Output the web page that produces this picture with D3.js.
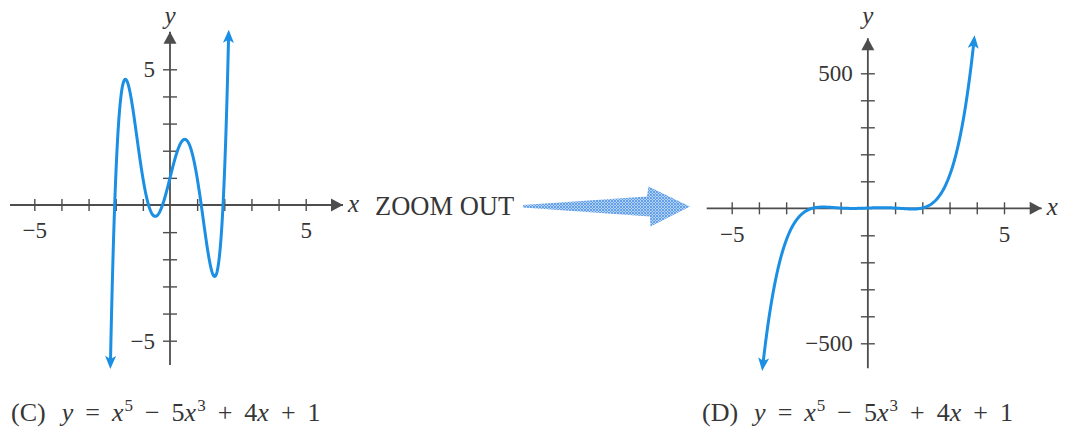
<!DOCTYPE html>
<html>
<head>
<meta charset="utf-8">
<script src="https://cdn.jsdelivr.net/npm/d3@7"></script>
<style>
  html, body { margin: 0; padding: 0; background: #fff; }
  svg { display: block; }
  text { font-family: "Liberation Serif", "Times New Roman", serif; fill: #363636; }
</style>
</head>
<body>
<svg id="chart" width="1080" height="432"></svg>
<script>
// Polynomial y = x^5 - 5x^3 + 4x + 1, highest power first
const coefficients = [1, 0, -5, 0, 4, 1];

// Visible x-interval of the curve in each panel
const curveRangeC = [-2.195, 2.16];
const curveRangeD = [-3.86, 3.9];

// Tick values and labels
const ticksXC = [-5, -4, -3, -2, -1, 1, 2, 3, 4, 5];
const ticksYC = [-5, -4, -3, -2, -1, 1, 2, 3, 4, 5];
const ticksXD = [-5, -4, -3, -2, -1, 1, 2, 3, 4, 5];
const ticksYD = [-500, -400, -300, -200, -100, 100, 200, 300, 400, 500];
const labelsXC = { "-5": "\u22125", "5": "5" };
const labelsYC = { "-5": "\u22125", "5": "5" };
const labelsXD = { "-5": "\u22125", "5": "5" };
const labelsYD = { "-500": "\u2212500", "500": "500" };

// Caption pieces: [text, italic, superscript, gap before]
const captionTokens = [
  ["y", true, false, 16],
  ["=", false, false, 12],
  ["x", true, false, 12],
  ["5", false, true, 1],
  ["\u2212", false, false, 12],
  ["5", false, false, 12],
  ["x", true, false, 0],
  ["3", false, true, 1],
  ["+", false, false, 12],
  ["4", false, false, 12],
  ["x", true, false, 0],
  ["+", false, false, 12],
  ["1", false, false, 12]
];

const curveColor = "#1b8fe4";
const axisColor = "#4d4d4d";

const svg = d3.select("#chart");
const defs = svg.append("defs");

// Axis arrowhead (filled triangle)
defs.append("marker")
  .attr("id", "axisHead")
  .attr("markerUnits", "userSpaceOnUse")
  .attr("markerWidth", 16).attr("markerHeight", 16)
  .attr("viewBox", "-13 -8 16 16")
  .attr("refX", 0).attr("refY", 0)
  .attr("orient", "auto")
  .append("path")
  .attr("d", "M0,0 L-12,-6.5 L-12,6.5 Z")
  .attr("fill", axisColor);

// Curve arrowhead (narrow dart)
defs.append("marker")
  .attr("id", "curveHead")
  .attr("markerUnits", "userSpaceOnUse")
  .attr("markerWidth", 20).attr("markerHeight", 16)
  .attr("viewBox", "-12 -8 20 16")
  .attr("refX", 0).attr("refY", 0)
  .attr("orient", "auto-start-reverse")
  .append("path")
  .attr("d", "M5,0 L-8,-5.5 L-5,0 L-8,5.5 Z")
  .attr("fill", curveColor);

// Hatched fill for the transition arrow
const pat = defs.append("pattern")
  .attr("id", "hatch")
  .attr("patternUnits", "userSpaceOnUse")
  .attr("width", 3).attr("height", 3);
pat.append("rect").attr("width", 3).attr("height", 3).attr("fill", "#b2d1f3");
pat.append("path").attr("d", "M0,0 L3,3 M3,0 L0,3")
  .attr("stroke", "#5b9ce6").attr("stroke-width", 0.9);

function poly(x) {
  return coefficients.reduce((acc, c) => acc * x + c, 0);
}

function panel(cfg) {
  const g = svg.append("g");
  const x = d3.scaleLinear().domain([-5, 5]).range(cfg.xRange);
  const y = d3.scaleLinear().domain(cfg.yDomain).range(cfg.yRange);
  const x0 = x(0), y0 = y(0);

  // axis lines with arrowheads
  g.append("line")
    .attr("x1", cfg.xAxisFrom).attr("x2", cfg.xAxisTip)
    .attr("y1", y0).attr("y2", y0)
    .attr("stroke", axisColor).attr("stroke-width", 1.8)
    .attr("marker-end", "url(#axisHead)");
  g.append("line")
    .attr("x1", x0).attr("x2", x0)
    .attr("y1", cfg.yAxisFrom).attr("y2", cfg.yAxisTip)
    .attr("stroke", axisColor).attr("stroke-width", 1.8)
    .attr("marker-end", "url(#axisHead)");

  // x ticks
  const ax = g.append("g").attr("transform", `translate(0,${y0})`)
    .call(d3.axisBottom(x).tickValues(cfg.ticksX).tickSize(6).tickPadding(11)
      .tickFormat(d => cfg.labelsX[d] || ""));
  ax.select(".domain").remove();
  ax.selectAll(".tick line").attr("y1", -6).attr("y2", 6)
    .attr("stroke", axisColor).attr("stroke-width", 1.4);
  ax.selectAll(".tick text").attr("font-size", 23)
    .style("font-family", "Liberation Serif").attr("fill", "#363636");

  // y ticks
  const ay = g.append("g").attr("transform", `translate(${x0},0)`)
    .call(d3.axisLeft(y).tickValues(cfg.ticksY).tickSize(7).tickPadding(8)
      .tickFormat(d => cfg.labelsY[d] || ""));
  ay.select(".domain").remove();
  ay.selectAll(".tick line").attr("x1", -7).attr("x2", 7)
    .attr("stroke", axisColor).attr("stroke-width", 1.4);
  ay.selectAll(".tick text").attr("font-size", 23)
    .style("font-family", "Liberation Serif").attr("fill", "#363636");

  // axis names
  g.append("text").attr("x", cfg.xAxisTip + 5).attr("y", y0 + 7)
    .attr("font-size", 25).attr("font-style", "italic").text("x");
  g.append("text").attr("x", x0).attr("y", 24).attr("text-anchor", "middle")
    .attr("font-size", 25).attr("font-style", "italic").text("y");

  // curve
  const n = 400;
  const [a, b] = cfg.curveRange;
  const pts = d3.range(n + 1).map(i => {
    const t = a + (b - a) * i / n;
    return [t, poly(t)];
  });
  g.append("path")
    .datum(pts)
    .attr("fill", "none")
    .attr("stroke", curveColor)
    .attr("stroke-width", 3)
    .attr("stroke-linejoin", "round")
    .attr("marker-start", "url(#curveHead)")
    .attr("marker-end", "url(#curveHead)")
    .attr("d", d3.line().x(d => x(d[0])).y(d => y(d[1])));

  // caption
  const cap = svg.append("text")
    .attr("x", cfg.capX).attr("y", 421)
    .attr("font-size", 26);
  cap.append("tspan").text(cfg.capTag);
  let raised = false;
  captionTokens.forEach(([t, ital, sup, gap]) => {
    const ts = cap.append("tspan").attr("dx", gap).text(t);
    if (ital) ts.attr("font-style", "italic");
    if (sup && !raised) { ts.attr("font-size", 17).attr("dy", -10); raised = true; }
    else if (!sup && raised) { ts.attr("dy", 10); raised = false; }
  });
}

panel({
  xRange: [34.3, 305.7], yDomain: [-5, 5], yRange: [340.7, 69.3],
  xAxisFrom: 10, xAxisTip: 343, yAxisFrom: 365, yAxisTip: 31.7,
  ticksX: ticksXC, ticksY: ticksYC, labelsX: labelsXC, labelsY: labelsYC,
  curveRange: curveRangeC, capX: 11, capTag: "(C)"
});

panel({
  xRange: [731.7, 1004], yDomain: [-500, 500], yRange: [343.3, 73.3],
  xAxisFrom: 706.7, xAxisTip: 1041.7, yAxisFrom: 368.3, yAxisTip: 38.3,
  ticksX: ticksXD, ticksY: ticksYD, labelsX: labelsXD, labelsY: labelsYD,
  curveRange: curveRangeD, capX: 702, capTag: "(D)"
});

// transition label and arrow
svg.append("text").attr("x", 375).attr("y", 215)
  .attr("font-size", 26.5).text("ZOOM OUT");

svg.append("path")
  .attr("d", "M523,205 L647,196.5 L648.5,186.5 L690,206.5 L650.5,226.5 L650,216.5 L523,207.5 Z")
  .attr("fill", "url(#hatch)");
</script>
</body>
</html>
